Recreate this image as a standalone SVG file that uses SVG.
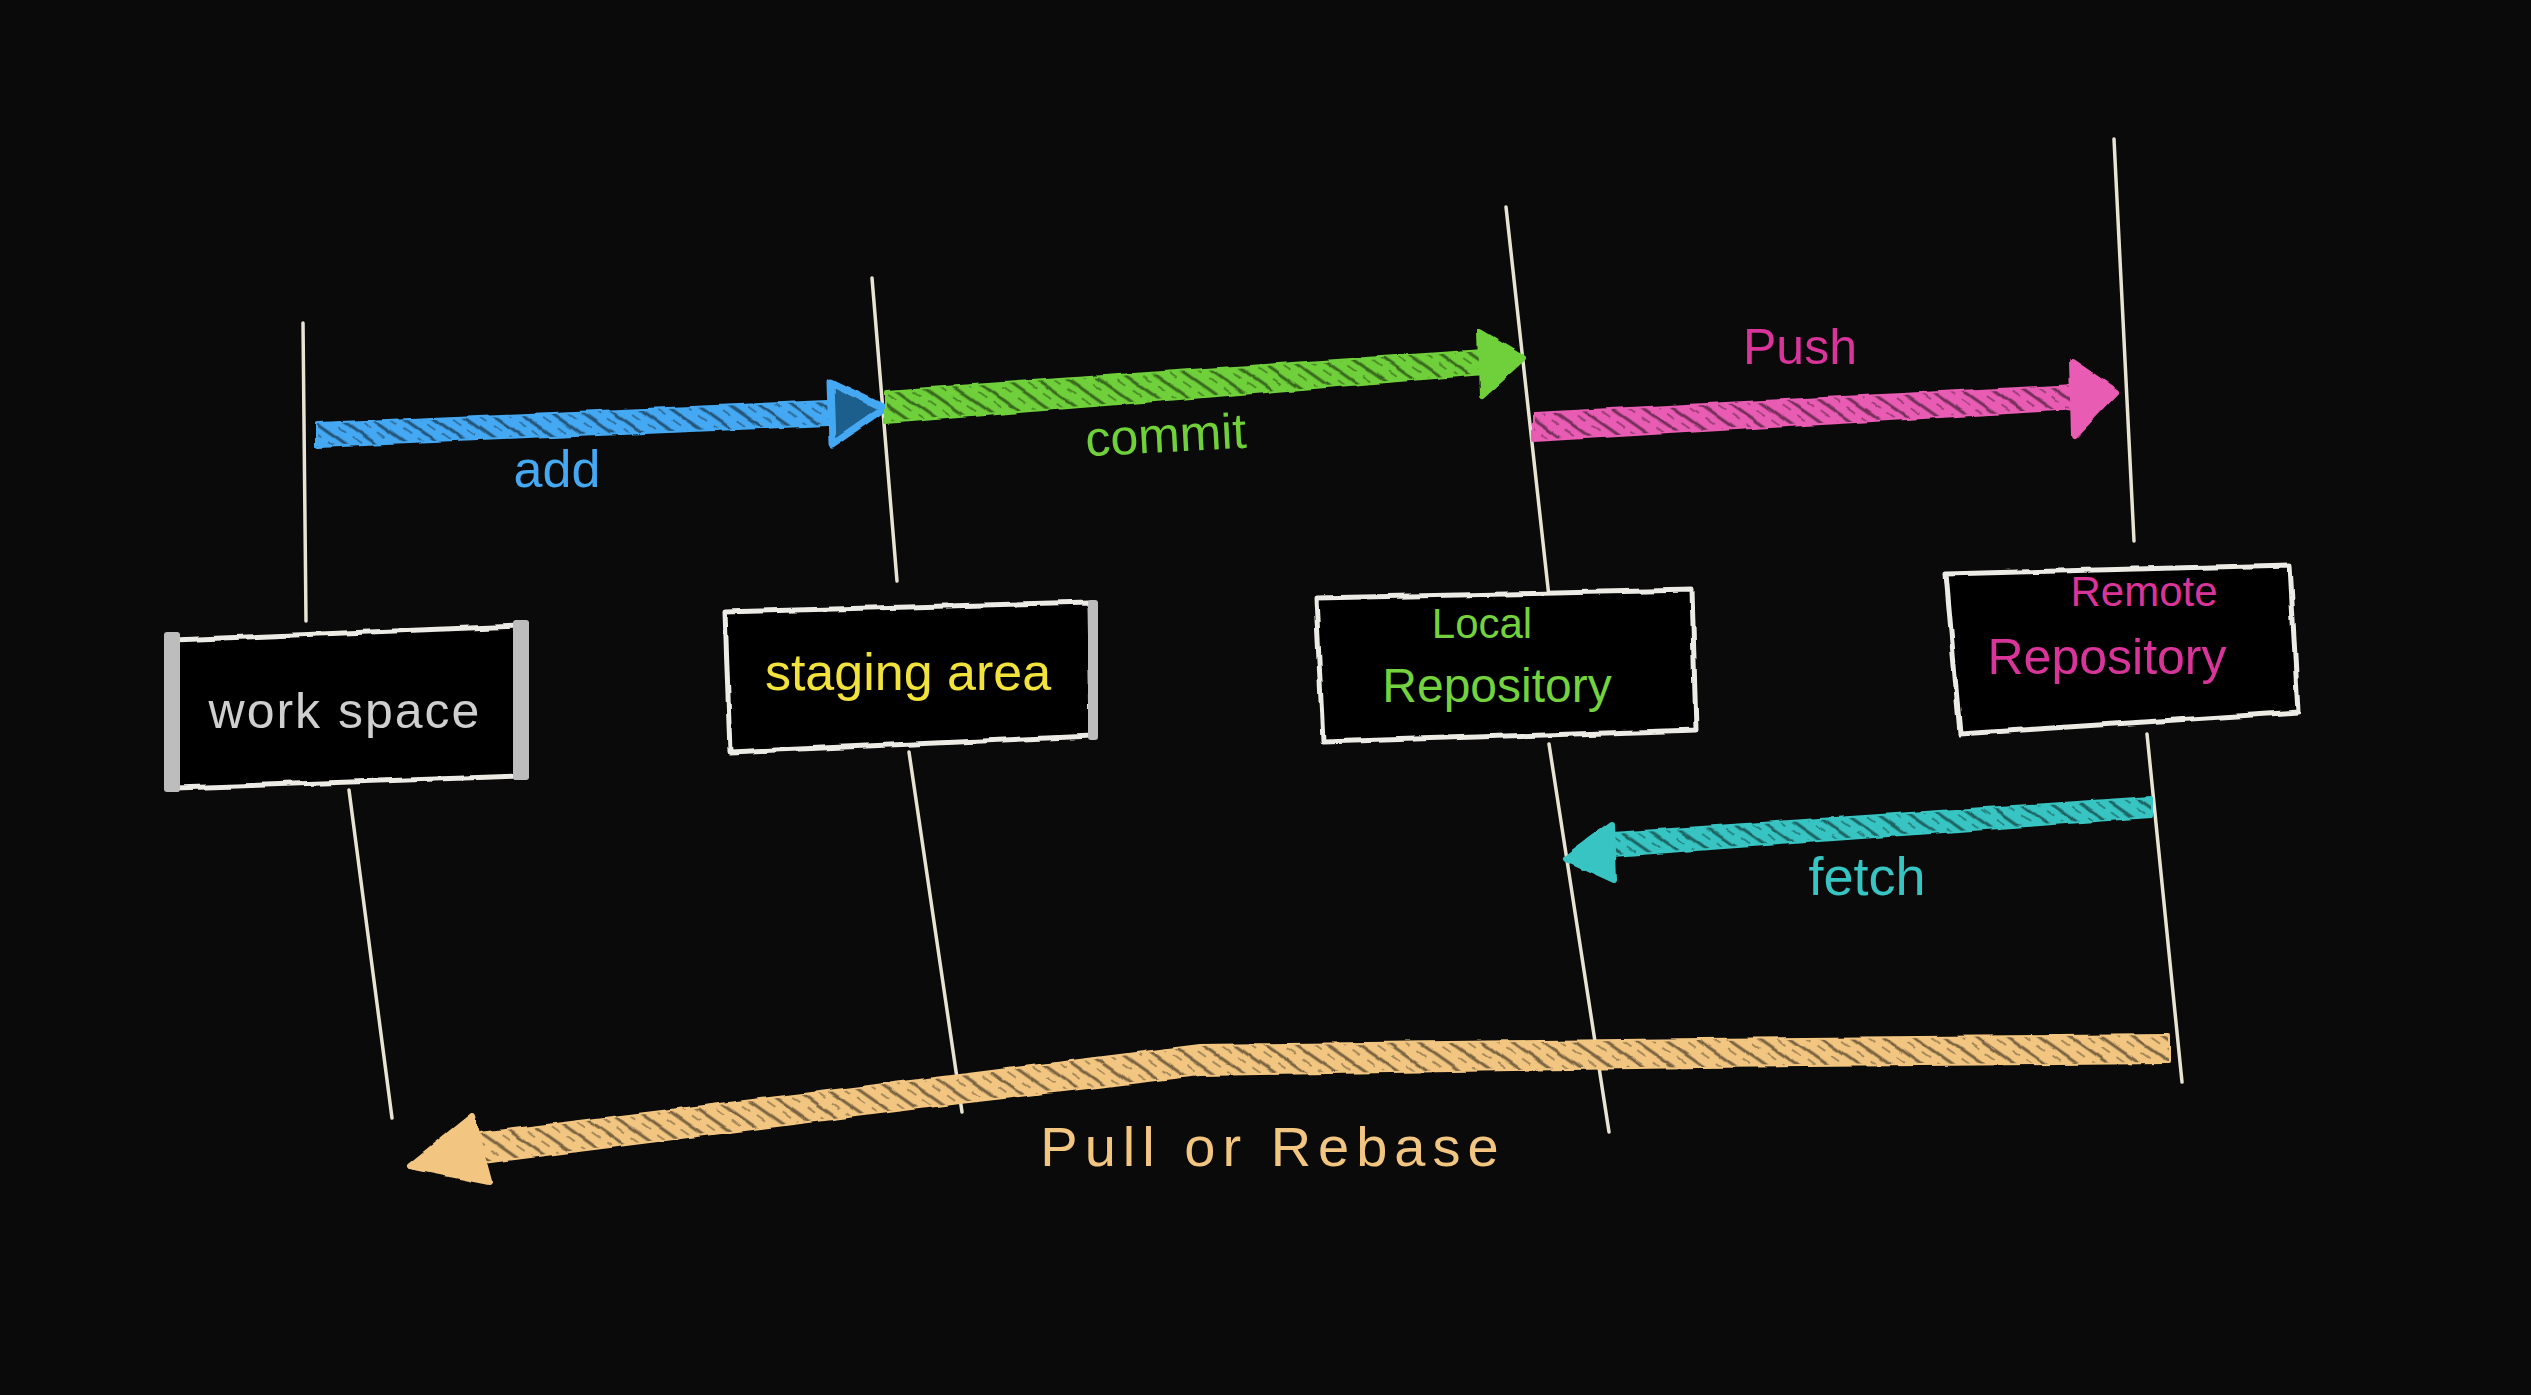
<svg xmlns="http://www.w3.org/2000/svg" width="2531" height="1395" viewBox="0 0 2531 1395">
<defs>
<filter id="rough" x="-5%" y="-20%" width="110%" height="140%">
<feTurbulence type="fractalNoise" baseFrequency="0.04" numOctaves="2" seed="3" result="n"/>
<feDisplacementMap in="SourceGraphic" in2="n" scale="5" xChannelSelector="R" yChannelSelector="G"/>
</filter>
<pattern id="hatch" width="18" height="18" patternUnits="userSpaceOnUse" patternTransform="rotate(35)">
<rect width="18" height="18" fill="none"/>
<line x1="0" y1="4" x2="18" y2="4" stroke="#000" stroke-width="3" stroke-opacity="0.5"/>
<line x1="0" y1="12" x2="10" y2="12" stroke="#000" stroke-width="2" stroke-opacity="0.3"/>
</pattern>
<style>
.life{fill:none;stroke:#e9e3d3;stroke-width:3.5;stroke-linecap:round}
.box{fill:#000;stroke:#ecebe6;stroke-width:5;stroke-linejoin:round}
.bar{fill:#bdbdbd}
.t{font-family:"Liberation Sans","DejaVu Sans",sans-serif;text-anchor:middle}
.band{stroke-width:4;stroke-linejoin:round}
.hat{fill:url(#hatch);stroke:none}
</style>
</defs>
<rect width="2531" height="1395" fill="#0a0a0a"/>

<g id="workspace">
<path class="life" d="M303,323 L306,621"/>
<path class="life" d="M349,790 L392,1118"/>
<path class="box" filter="url(#rough)" d="M172,640 L520,626 L523,776 L176,788 Z"/>
<rect class="bar" x="164" y="632" width="16" height="160" rx="3"/>
<rect class="bar" x="513" y="620" width="16" height="160" rx="3"/>
<text class="t" x="345" y="728" font-size="50" fill="#cfcfcf" letter-spacing="2">work space</text>
</g>

<g id="staging">
<path class="life" d="M872,278 L897,581"/>
<path class="life" d="M909,752 L962,1112"/>
<path class="box" filter="url(#rough)" d="M725,612 L1090,602 L1092,736 L730,752 Z"/>
<rect class="bar" x="1088" y="600" width="10" height="140" rx="3"/>
<text class="t" x="908" y="690" font-size="52" fill="#f2e23c">staging area</text>
</g>

<g id="local">
<path class="life" d="M1506,207 L1549,597"/>
<path class="life" d="M1549,744 L1609,1132"/>
<path class="box" filter="url(#rough)" d="M1316,598 L1692,590 L1696,730 L1323,742 Z"/>
<text class="t" x="1482" y="638" font-size="42" fill="#74d23e">Local</text>
<text class="t" x="1497" y="702" font-size="48" fill="#74d23e">Repository</text>
</g>

<g id="remote">
<path class="life" d="M2114,139 L2134,541"/>
<path class="life" d="M2147,734 L2182,1082"/>
<path class="box" filter="url(#rough)" d="M1946,574 L2290,565 L2298,712 L1960,734 Z"/>
<text class="t" x="2144" y="606" font-size="42" fill="#d9349a">Remote</text>
<text class="t" x="2107" y="674" font-size="50" fill="#d9349a">Repository</text>
</g>

<g id="connectors">
<g id="add" filter="url(#rough)">
<path class="band" fill="#45a8f2" stroke="#45a8f2" d="M318,424 L828,402 L828,424 L318,446 Z"/>
<path class="hat" d="M318,424 L828,402 L828,424 L318,446 Z"/>
<path d="M830,382 L884,408 L832,444 Z" fill="#1d5e8c" stroke="#45a8f2" stroke-width="7" stroke-linejoin="round"/>
</g>
<text class="t" x="557" y="487" font-size="52" fill="#45a8f2">add</text>

<g id="commit" filter="url(#rough)">
<path class="band" fill="#6fd03a" stroke="#6fd03a" d="M886,392 L1484,351 L1484,373 L886,422 Z"/>
<path class="hat" d="M886,392 L1484,351 L1484,373 L886,422 Z"/>
<path d="M1480,332 L1524,358 L1482,396 Z" fill="#6fd03a" stroke="#6fd03a" stroke-width="6" stroke-linejoin="round"/>
</g>
<text class="t" x="1166" y="452" font-size="50" fill="#6fd03a" transform="rotate(-3 1166 440)">commit</text>

<g id="push" filter="url(#rough)">
<path class="band" fill="#e85cb3" stroke="#e85cb3" d="M1534,414 L2075,386 L2075,408 L1534,440 Z"/>
<path class="hat" d="M1534,414 L2075,386 L2075,408 L1534,440 Z"/>
<path d="M2072,362 L2116,392 L2074,436 Z" fill="#e85cb3" stroke="#e85cb3" stroke-width="6" stroke-linejoin="round"/>
</g>
<text class="t" x="1800" y="364" font-size="50" fill="#d9349a">Push</text>

<g id="fetch" filter="url(#rough)">
<path class="band" fill="#37c4c2" stroke="#37c4c2" d="M2151,798 L1612,834 L1612,855 L2151,816 Z"/>
<path class="hat" d="M2151,798 L1612,834 L1612,855 L2151,816 Z"/>
<path d="M1612,824 L1566,858 L1614,880 Z" fill="#37c4c2" stroke="#37c4c2" stroke-width="6" stroke-linejoin="round"/>
</g>
<text class="t" x="1867" y="895" font-size="54" fill="#37c4c2">fetch</text>

<g id="pull" filter="url(#rough)">
<path class="band" fill="#f2c681" stroke="#f2c681" d="M2168,1036 L1700,1040 L1200,1046 L960,1076 L480,1134 L484,1162 L960,1102 L1200,1074 L1700,1066 L2168,1062 Z"/>
<path class="hat" d="M2168,1036 L1700,1040 L1200,1046 L960,1076 L480,1134 L484,1162 L960,1102 L1200,1074 L1700,1066 L2168,1062 Z"/>
<path d="M472,1116 L410,1166 L490,1182 Z" fill="#f2c681" stroke="#f2c681" stroke-width="6" stroke-linejoin="round"/>
</g>
<text class="t" x="1273" y="1166" font-size="56" fill="#f2c681" letter-spacing="7">Pull or Rebase</text>
</g>
</svg>
